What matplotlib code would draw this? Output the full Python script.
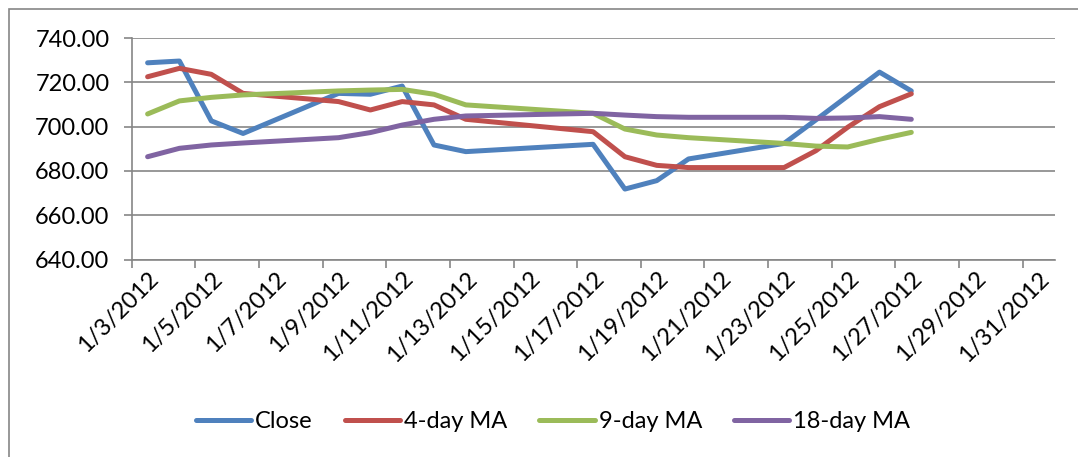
import matplotlib
matplotlib.use("Agg")
import matplotlib.pyplot as plt
from matplotlib.patches import Rectangle
from matplotlib.ticker import FixedLocator, FormatStrFormatter

# day offsets from 1/3/2012 (trading days only)
days = [0, 1, 2, 3, 6, 7, 8, 9, 10, 14, 15, 16, 17, 20, 21, 22, 23, 24]

close = [728.8, 729.6, 702.6, 696.9, 715.0, 714.6, 718.3, 691.7, 688.7,
         692.0, 671.8, 675.6, 685.4, 692.4, 703.0, 713.8, 724.6, 716.1]
ma4 = [722.5, 726.3, 723.6, 715.0, 711.3, 707.5, 711.3, 709.8, 703.3,
       697.7, 686.4, 682.5, 681.5, 681.5, 689.1, 699.7, 709.0, 714.8]
ma9 = [705.7, 711.6, 713.2, 714.3, 716.1, 716.5, 716.8, 714.6, 709.8,
       706.0, 698.9, 696.2, 695.0, 692.4, 691.2, 690.8, 694.3, 697.4]
ma18 = [686.4, 690.2, 691.7, 692.6, 695.0, 697.3, 700.7, 703.3, 704.8,
        706.0, 705.2, 704.5, 704.2, 704.2, 703.7, 703.9, 704.5, 703.3]

tick_labels = ["1/%d/2012" % d for d in range(3, 32, 2)]
series_names = ["Close", "4-day MA", "9-day MA", "18-day MA"]
colors = ["#4F81BD", "#C0504D", "#9BBB59", "#8064A2"]

plt.rcParams["font.family"] = ["Lato", "DejaVu Sans"]
FS = 17

fig = plt.figure(figsize=(10.78, 4.57), dpi=100)
ax = fig.add_axes([131.7 / 1078, 1 - 259.5 / 457, (1054.5 - 131.7) / 1078, (259.5 - 38) / 457])

for vals, name, c in zip([close, ma4, ma9, ma18], series_names, colors):
    ax.plot(days, vals, color=c, lw=3.6, label=name, solid_capstyle="round",
            solid_joinstyle="round")

ax.set_xlim(-0.5, 28.5)
ax.set_ylim(640, 740)
ax.set_yticks(range(640, 741, 20))
ax.yaxis.set_major_formatter(FormatStrFormatter("%.2f"))

# labels centred on the day slot, tick marks on slot boundaries
ax.set_xticks(range(0, 29, 2))
ax.set_xticklabels(tick_labels, rotation=45, ha="right", va="top",
                   rotation_mode="anchor")
ax.xaxis.set_minor_locator(FixedLocator([x - 0.5 for x in range(0, 29, 2)]))
ax.tick_params(axis="x", which="major", length=0, pad=6, labelsize=FS)
ax.tick_params(axis="x", which="minor", length=6, width=1.2, color="#868686")
ax.tick_params(axis="y", length=6, width=1.2, color="#868686", labelsize=FS, pad=10)

ax.grid(axis="y", color="#868686", lw=1.2)
ax.set_axisbelow(True)
for side in ["top", "right"]:
    ax.spines[side].set_visible(False)
for side in ["left", "bottom"]:
    ax.spines[side].set_color("#868686")
    ax.spines[side].set_linewidth(1.2)

leg = fig.legend(loc="center", bbox_to_anchor=(553 / 1078, 1 - 422 / 457),
                 ncol=4, frameon=False, fontsize=FS, handlelength=2.35,
                 handletextpad=0.17, columnspacing=1.35)

# chart area frame
fig.patches.append(Rectangle((9 / 1078, -0.01), 1.1, 1 - 9 / 457 + 0.01,
                             transform=fig.transFigure, fill=False,
                             edgecolor="#868686", lw=1.2))

fig.savefig("out.png", dpi=100)
